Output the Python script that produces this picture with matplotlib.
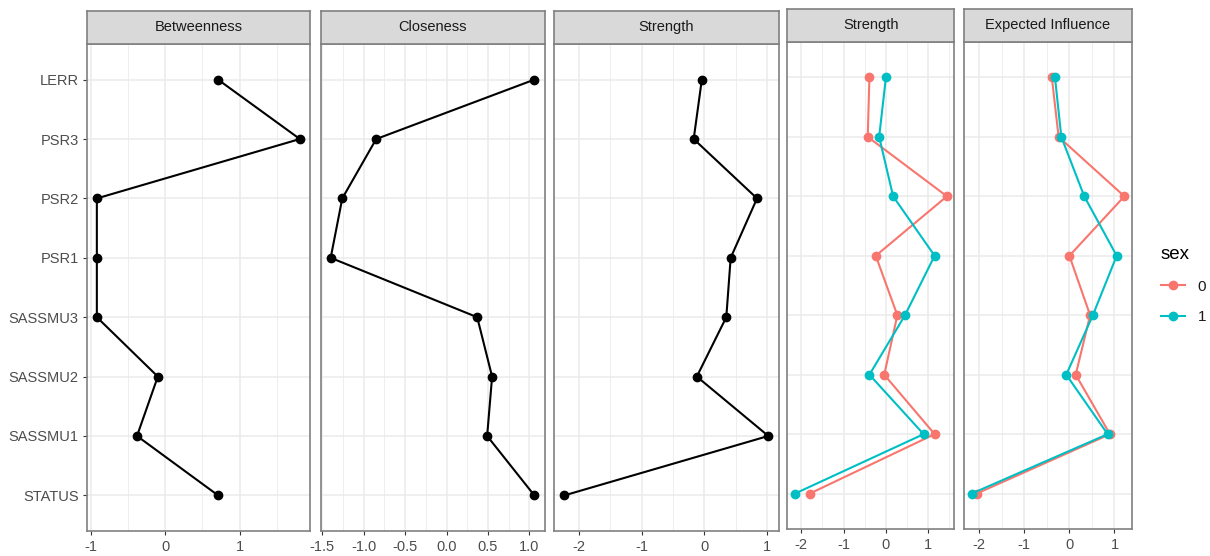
import matplotlib
matplotlib.use("Agg")
import matplotlib.pyplot as plt
from matplotlib.ticker import MultipleLocator, FormatStrFormatter
import numpy as np

plt.rcParams['font.family'] = ['Liberation Sans', 'DejaVu Sans']
plt.rcParams['axes.unicode_minus'] = False

# ---- data ----
nodes = ['LERR', 'PSR3', 'PSR2', 'PSR1', 'SASSMU3', 'SASSMU2', 'SASSMU1', 'STATUS']
betweenness = [0.71, 1.81, -0.92, -0.92, -0.92, -0.10, -0.38, 0.71]
closeness = [1.06, -0.85, -1.26, -1.40, 0.37, 0.55, 0.49, 1.06]
strength = [-0.04, -0.17, 0.84, 0.42, 0.35, -0.12, 1.02, -2.23]
strength_sex0 = [-0.39, -0.43, 1.44, -0.24, 0.27, -0.04, 1.15, -1.80]
strength_sex1 = [0.00, -0.16, 0.17, 1.15, 0.45, -0.39, 0.89, -2.15]
ei_sex0 = [-0.39, -0.24, 1.22, 0.00, 0.46, 0.14, 0.90, -2.06]
ei_sex1 = [-0.32, -0.18, 0.33, 1.05, 0.52, -0.07, 0.85, -2.17]
sex_levels = ['0', '1']
sex_colors = ['#F8766D', '#00BFC4']

W, H = 1210, 556
fig = plt.figure(figsize=(W / 100, H / 100), dpi=100)

def px_axes(l, r, t, b):
    return fig.add_axes([l / W, 1 - b / H, (r - l) / W, (b - t) / H])

BORDER = '#808080'
GRID = '#EBEBEB'
ypos = np.arange(1, len(nodes) + 1)

def style_panel(ax, title, values_all, step, fmt, strip_top, show_y):
    lo = min(min(v) for v in values_all)
    hi = max(max(v) for v in values_all)
    pad = (hi - lo) * 0.05
    ax.set_xlim(lo - pad, hi + pad)
    ax.set_ylim(len(nodes) + 0.6, 0.4)
    ax.xaxis.set_major_locator(MultipleLocator(step))
    ax.xaxis.set_minor_locator(MultipleLocator(step / 2))
    ax.xaxis.set_major_formatter(FormatStrFormatter(fmt))
    ax.set_yticks(ypos)
    ax.set_yticklabels(nodes)
    ax.set_axisbelow(True)
    ax.grid(True, which='major', color=GRID, lw=1.1)
    ax.grid(True, which='minor', axis='x', color=GRID, lw=0.6)
    for s in ax.spines.values():
        s.set_color(BORDER)
        s.set_linewidth(1.2)
    ax.tick_params(axis='x', which='major', length=3.2, width=0.8, color='#333333',
                   labelsize=10.5, labelcolor='#4D4D4D', pad=3.0)
    ax.tick_params(axis='y', which='major', length=3.2, width=0.8, color='#333333',
                   labelsize=10.5, labelcolor='#4D4D4D', pad=2.5,
                   left=show_y, labelleft=show_y)
    ax.tick_params(which='minor', length=0)
    # strip
    pos = ax.get_position()
    stop = 1 - strip_top / H
    sax = fig.add_axes([pos.x0, pos.y1, pos.width, stop - pos.y1])
    sax.set_facecolor('#D9D9D9')
    sax.set_xticks([])
    sax.set_yticks([])
    for s in sax.spines.values():
        s.set_color(BORDER)
        s.set_linewidth(1.2)
    sax.text(0.5, 0.5, title, ha='center', va='center', fontsize=10.5,
             color='#1A1A1A', transform=sax.transAxes)

LW = 1.5
MS = 6.0

# left block of three panels
ax1 = px_axes(86.7, 310.0, 44.0, 531.0)
ax1.plot(betweenness, ypos, color='black', lw=LW, marker='o', ms=MS)
style_panel(ax1, 'Betweenness', [betweenness], 1, '%d', 10.5, True)

ax2 = px_axes(320.5, 544.5, 44.0, 531.0)
ax2.plot(closeness, ypos, color='black', lw=LW, marker='o', ms=MS)
style_panel(ax2, 'Closeness', [closeness], 0.5, '%.1f', 10.5, False)

ax3 = px_axes(554.3, 778.5, 44.0, 531.0)
ax3.plot(strength, ypos, color='black', lw=LW, marker='o', ms=MS)
style_panel(ax3, 'Strength', [strength], 1, '%d', 10.5, False)

# right block: by sex
ax4 = px_axes(787.3, 954.5, 41.7, 529.3)
handles = []
for vals, lab, col in zip([strength_sex0, strength_sex1], sex_levels, sex_colors):
    h, = ax4.plot(vals, ypos, color=col, lw=LW, marker='o', ms=MS, label=lab)
    handles.append(h)
style_panel(ax4, 'Strength', [strength_sex0, strength_sex1], 1, '%d', 9.0, False)

ax5 = px_axes(964.0, 1132.0, 41.7, 529.3)
for vals, lab, col in zip([ei_sex0, ei_sex1], sex_levels, sex_colors):
    ax5.plot(vals, ypos, color=col, lw=LW, marker='o', ms=MS, label=lab)
style_panel(ax5, 'Expected Influence', [ei_sex0, ei_sex1], 1, '%d', 9.0, False)

leg = fig.legend(handles, sex_levels, title='sex', loc='upper left',
                 bbox_to_anchor=(1147 / W, 1 - 232 / H), frameon=False,
                 fontsize=11, title_fontsize=13.5, handlelength=1.6,
                 handletextpad=0.8, labelspacing=1.1, alignment='left')
for t in leg.get_texts():
    t.set_color('#1A1A1A')

fig.savefig('out.png', dpi=100)
